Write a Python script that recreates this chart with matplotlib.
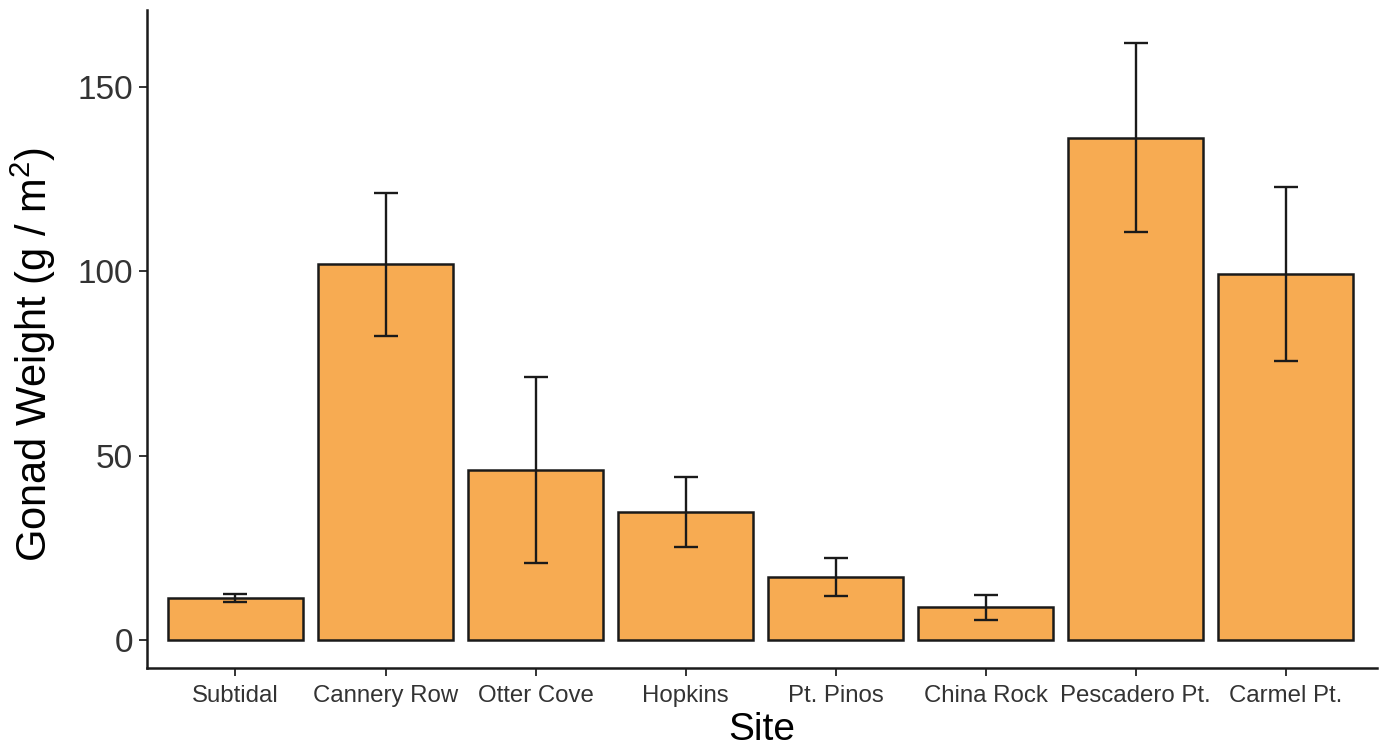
import matplotlib
matplotlib.use("Agg")
import matplotlib.pyplot as plt
import numpy as np

sites = ["Subtidal", "Cannery Row", "Otter Cove", "Hopkins", "Pt. Pinos",
         "China Rock", "Pescadero Pt.", "Carmel Pt."]
gonad_mean = [11.4, 101.9, 46.1, 34.6, 17.0, 8.9, 136.3, 99.3]
gonad_se = [1.2, 19.4, 25.2, 9.5, 5.1, 3.4, 25.7, 23.5]
y_ticks = [0, 50, 100, 150]

plt.rcParams["font.family"] = ["Liberation Sans", "DejaVu Sans"]
plt.rcParams["mathtext.fontset"] = "custom"
plt.rcParams["mathtext.rm"] = "Liberation Sans"
plt.rcParams["mathtext.it"] = "Liberation Sans"

fig = plt.figure(figsize=(13.8, 7.46), dpi=100)
ax = fig.add_axes([0.1065, 0.1046, 0.8915, 0.882])

x = np.arange(len(sites))
ax.bar(x, gonad_mean, width=0.9, color="#F7AB52", edgecolor="#1a1a1a",
       linewidth=1.8, zorder=2)
ax.errorbar(x, gonad_mean, yerr=gonad_se, fmt="none", ecolor="#1a1a1a",
            elinewidth=1.7, capsize=8.5, capthick=1.7, zorder=3)

ax.set_xlim(-0.59, 7.61)
ax.set_ylim(-7.6, 170.9)
ax.set_xticks(x)
ax.set_xticklabels(sites, fontsize=17.3, color="#333333")
ax.set_yticks(y_ticks)
ax.set_yticklabels([str(v) for v in y_ticks], fontsize=24, color="#333333")
ax.tick_params(axis="both", length=6, width=1.4, color="#333333")
ax.tick_params(axis="y", pad=4)
ax.tick_params(axis="x", pad=6)

for side in ("top", "right"):
    ax.spines[side].set_visible(False)
for side in ("left", "bottom"):
    ax.spines[side].set_linewidth(1.8)
    ax.spines[side].set_color("#1a1a1a")

ax.set_xlabel("Site", fontsize=28, labelpad=4)
ax.set_ylabel(r"Gonad Weight (g / m$^{2}$)", fontsize=30, labelpad=14)
ax.yaxis.label.set_y(0.476)

fig.savefig("out.png", dpi=100, facecolor="white")
